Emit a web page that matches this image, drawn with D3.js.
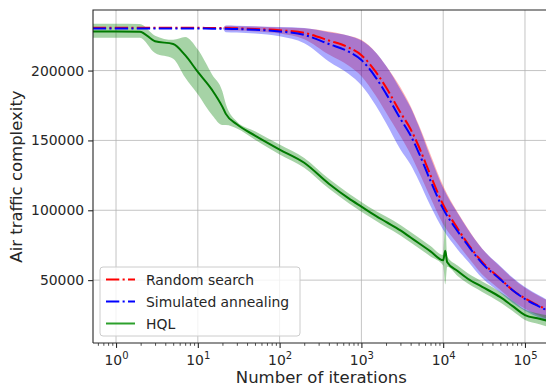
<!DOCTYPE html>
<head>
<meta charset="utf-8">
<style>
body { margin: 0; background: #fff; }
svg text { font-family: "DejaVu Sans", sans-serif; fill: #262626; }
.grid line { stroke: #b0b0b0; stroke-width: 1; stroke-opacity: 0.75; }
</style>
<title>Air traffic complexity vs iterations</title>
</head>
<body>
<svg width="546" height="387"></svg>
<script src="https://cdn.jsdelivr.net/npm/d3@7"></script>
<script>
/* global d3 */
// random search / simulated annealing share one x grid
var iterations = [0.52, 1, 2, 3, 5, 7, 10, 15, 20, 22, 30, 50, 100, 200, 400, 700, 1000, 1500, 2000, 3000,
                  4000, 5000, 7000, 10000, 15000, 20000, 30000, 50000, 70000, 100000, 150000, 200000]

var rsMean = [230600, 230600, 230600, 230600, 230600, 230600, 230600, 230500, 230500, 230400, 230200, 229800, 228800, 227000, 221500, 216500, 211000, 199000, 188000, 170000,
              158000, 146000, 125000, 104000, 87000, 76000, 63000, 51000, 43000, 37000, 31500, 28000]
var rsLow  = [230600, 230600, 230600, 230600, 230600, 230600, 230600, 230500, 230500, 228800, 228600, 228000, 226500, 222500, 211500, 203500, 196000, 182000, 170000, 153000,
              140000, 128000, 109000, 90000, 76000, 66500, 54000, 43000, 35500, 29500, 24500, 21500]
var rsHigh = [230600, 230600, 230600, 230600, 230600, 230600, 230600, 230500, 230500, 232000, 231800, 231500, 230900, 230200, 228000, 225000, 222000, 213000, 203500, 188000,
              174500, 161500, 140000, 117500, 98500, 87000, 72500, 59500, 51500, 44500, 38500, 34500]

var saMean = [230100, 230100, 230100, 230100, 230100, 230100, 230100, 230000, 230000, 229900, 229700, 229200, 228000, 225500, 219000, 213500, 207500, 195000, 183500, 165500,
              153500, 141500, 121000, 101000, 85000, 75000, 62000, 50500, 43000, 36500, 31000, 27500]
var saLow  = [230100, 230100, 230100, 230100, 230100, 230100, 230100, 230000, 230000, 227500, 227300, 226500, 224500, 219500, 206500, 197500, 189500, 175000, 162500, 143500,
              132500, 121500, 103000, 86000, 72000, 63500, 51500, 41000, 34000, 28000, 23000, 20500]
var saHigh = [230100, 230100, 230100, 230100, 230100, 230100, 230100, 230000, 230000, 232300, 232100, 231800, 231200, 230500, 227500, 225000, 221500, 213000, 203500, 186500,
              173500, 160500, 138000, 116000, 98000, 86500, 72500, 60000, 52000, 45000, 39000, 35000]

var hqlIterations = [0.52, 1, 1.95, 3, 5, 7, 10, 15, 20, 22, 30, 50, 100, 200, 400, 700, 1000, 1500, 2000, 3000,
                     4000, 5000, 7000, 10000, 10600, 11200, 15000, 20000, 30000, 50000, 70000, 100000, 150000, 200000]
var hqlMean = [228000, 228000, 227800, 221000, 219000, 211000, 199000, 186000, 174000, 169000, 161500, 153500, 143500, 134000, 119000, 108500, 102600, 96000, 91700, 85600,
               80500, 76600, 70600, 64200, 71000, 62800, 56500, 51000, 45200, 37800, 31600, 25000, 22400, 20500]
var hqlLow  = [223500, 223500, 223500, 212500, 208500, 195000, 183000, 168000, 161000, 161000, 158500, 150500, 140000, 130500, 115500, 105000, 99000, 92500, 88000, 82000,
               77000, 73000, 67000, 60500, 47000, 59500, 53000, 47500, 41500, 34000, 28000, 21500, 18500, 16000]
var hqlHigh = [233500, 233500, 233300, 225000, 222000, 224000, 215000, 197000, 185000, 176000, 163500, 156500, 147000, 137500, 122500, 112000, 106000, 99500, 95500, 89500,
               84500, 80500, 74500, 68000, 94000, 67000, 60500, 55000, 49000, 41500, 35500, 29000, 26000, 24500]

var seriesNames = ["Random search", "Simulated annealing", "HQL"]
var yTicks = [50000, 100000, 150000, 200000]
var xTicks = [1, 10, 100, 1000, 10000, 100000]

var svg = d3.select("svg"),
    margin = {top: 10, left: 93},
    plotRight = 549.6,
    plotBottom = 343

var x = d3.scaleLog().domain([0.523, 200000]).range([margin.left, plotRight]),
    y = d3.scaleLinear().domain([5000, 243350]).range([plotBottom, margin.top])

svg.append("defs").append("clipPath").attr("id", "clip")
  .append("rect")
    .attr("x", margin.left).attr("y", margin.top)
    .attr("width", plotRight - margin.left).attr("height", plotBottom - margin.top)

// grid
var grid = svg.append("g").attr("class", "grid")
grid.selectAll(".gx").data(xTicks).enter().append("line")
    .attr("x1", d => x(d)).attr("x2", d => x(d))
    .attr("y1", margin.top).attr("y2", plotBottom)
grid.selectAll(".gy").data(yTicks).enter().append("line")
    .attr("x1", margin.left).attr("x2", plotRight)
    .attr("y1", d => y(d)).attr("y2", d => y(d))

function rows(xs, mean, lo, hi) {
  return xs.map((v, i) => ({x: v, m: mean[i], lo: lo[i], hi: hi[i]}))
}
var series = [
  {data: rows(iterations, rsMean, rsLow, rsHigh), color: "#ff0000", fill: "#ff0000", alpha: 0.3, dash: "13.3,3.3,2.1,3.3"},
  {data: rows(iterations, saMean, saLow, saHigh), color: "#0000ff", fill: "#0000ff", alpha: 0.33, dash: "13.3,3.3,2.1,3.3"},
  {data: rows(hqlIterations, hqlMean, hqlLow, hqlHigh), color: "#007a00", fill: "#008000", alpha: 0.35, dash: null}
]

var plot = svg.append("g").attr("clip-path", "url(#clip)")
var area = d3.area().x(d => x(d.x)).y0(d => y(d.lo)).y1(d => y(d.hi)).curve(d3.curveMonotoneX)
var line = d3.line().x(d => x(d.x)).y(d => y(d.m)).curve(d3.curveMonotoneX)

series.forEach(s => {
  plot.append("path").datum(s.data)
      .attr("d", area)
      .attr("fill", s.fill)
      .attr("fill-opacity", s.alpha)
})
series.forEach(s => {
  plot.append("path").datum(s.data)
      .attr("d", line)
      .attr("fill", "none")
      .attr("stroke", s.color)
      .attr("stroke-width", 2)
      .attr("stroke-dasharray", s.dash)
})

// axes
var minor = []
for (var e = -1; e <= 5; e++) for (var k = 2; k <= 9; k++) {
  var v = k * Math.pow(10, e)
  if (v >= 0.523 && v <= 200000) minor.push(v)
}
svg.append("g")
    .attr("transform", "translate(0," + plotBottom + ")")
    .call(d3.axisBottom(x).tickValues(minor).tickSize(2.8).tickFormat(""))
    .call(g => g.select(".domain").remove())
    .selectAll("line").attr("stroke", "#262626").attr("stroke-width", 0.8)

var gx = svg.append("g")
    .attr("transform", "translate(0," + plotBottom + ")")
    .call(d3.axisBottom(x).tickValues(xTicks).tickSize(4.9).tickFormat(""))
gx.select(".domain").remove()
gx.selectAll("line").attr("stroke", "#262626").attr("stroke-width", 1.1)
gx.selectAll(".tick").each(function(d) {
  var t = d3.select(this).append("text")
      .attr("y", 21.5).attr("text-anchor", "middle")
      .style("font-size", "13.9px").attr("fill", "#262626")
  t.append("tspan").text("10")
  t.append("tspan").attr("dy", -6).style("font-size", "10px").text(Math.round(Math.log10(d)))
})

var gy = svg.append("g")
    .attr("transform", "translate(" + margin.left + ",0)")
    .call(d3.axisLeft(y).tickValues(yTicks).tickSize(4.9).tickPadding(4).tickFormat(d3.format("d")))
gy.select(".domain").remove()
gy.selectAll("line").attr("stroke", "#262626").attr("stroke-width", 1.1)
gy.selectAll("text").style("font-size", "13.9px").attr("fill", "#262626")

// spines
svg.append("path")
    .attr("d", "M" + margin.left + "," + plotBottom + "V" + margin.top + "H" + plotRight + "V" + plotBottom + "H" + margin.left)
    .attr("stroke", "#262626").attr("stroke-width", 1.1).attr("fill", "none")

svg.append("text")
    .attr("transform", "translate(21.5," + (margin.top + plotBottom) / 2 + ") rotate(-90)")
    .attr("text-anchor", "middle")
    .style("font-size", "16.5px")
    .text("Air traffic complexity")
svg.append("text")
    .attr("x", (margin.left + plotRight) / 2).attr("y", 383)
    .attr("text-anchor", "middle")
    .style("font-size", "16.5px")
    .text("Number of iterations")

// legend
var legend = svg.append("g").attr("transform", "translate(100,267)")
legend.append("rect")
    .attr("width", 200).attr("height", 69).attr("rx", 3)
    .attr("fill", "#fff").attr("fill-opacity", 0.8)
    .attr("stroke", "#cccccc").attr("stroke-width", 1)
var legendColors = ["#ff0000", "#0000ff", "#2ca02c"]
seriesNames.forEach((name, i) => {
  var row = legend.append("g").attr("transform", "translate(0," + (12.5 + i * 22) + ")")
  row.append("line")
      .attr("x1", 6).attr("x2", 35)
      .attr("stroke", legendColors[i]).attr("stroke-width", 2)
      .attr("stroke-dasharray", series[i].dash)
  row.append("text")
      .attr("x", 46).attr("y", 5.5)
      .style("font-size", "13.9px")
      .text(name)
})
</script>
</body>
